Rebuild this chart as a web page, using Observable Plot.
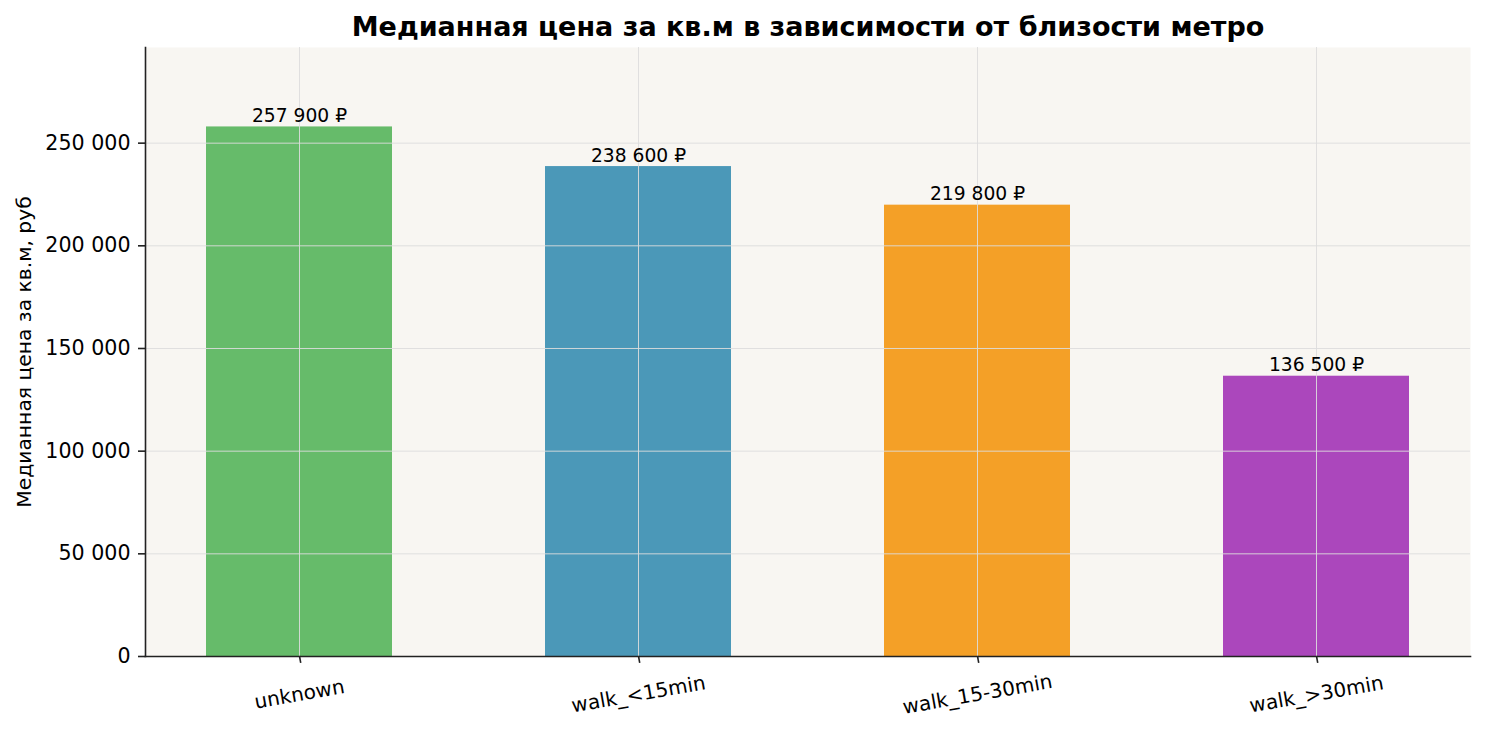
<!DOCTYPE html>
<html>
<head>
<meta charset="utf-8">
<script src="https://cdn.jsdelivr.net/npm/d3@7"></script>
<script src="https://cdn.jsdelivr.net/npm/@observablehq/plot@0.6"></script>
<style>
  html, body { margin: 0; padding: 0; background: #ffffff; }
  #chart { width: 1485px; height: 734px; }
</style>
</head>
<body>
<div id="chart"></div>
<script>
const categories = ["unknown", "walk_<15min", "walk_15-30min", "walk_>30min"];
const medianPrice = [257900, 238600, 219800, 136500];
const barColors = ["#66bb6a", "#4b98b8", "#f4a027", "#ab47bc"];
const yTicks = [0, 50000, 100000, 150000, 200000, 250000];
const titleText = "Медианная цена за кв.м в зависимости от близости метро";
const yLabelText = "Медианная цена за кв.м, руб";

const data = categories.map((c, i) => ({cat: c, value: medianPrice[i], color: barColors[i]}));
const fmtNum = d => d3.format(",")(d).replace(/,/g, "\u00a0");
const fmtRub = d => fmtNum(d) + " ₽";

const chart = Plot.plot({
  width: 1485,
  height: 734,
  marginLeft: 145,
  marginRight: 15,
  marginTop: 47,
  marginBottom: 78,
  style: {fontFamily: "DejaVu Sans", background: "#ffffff", color: "#000000"},
  x: {domain: categories, paddingInner: 0.45, paddingOuter: 0.175, label: null},
  y: {domain: [0, 257900 * 1.15], label: null},
  color: {type: "identity"},
  marks: [
    Plot.frame({fill: "#f8f6f2", stroke: "none"}),
    Plot.barY(data, {x: "cat", y: "value", fill: "color"}),
    Plot.gridY(yTicks, {stroke: "#dddddd", strokeOpacity: 0.9, strokeWidth: 1}),
    Plot.gridX({stroke: "#dddddd", strokeOpacity: 0.9, strokeWidth: 1}),
    Plot.text(data, {x: "cat", y: "value", text: d => fmtRub(d.value), lineAnchor: "bottom", dy: -5, fontSize: 18.7, fill: "#000"}),
    Plot.axisY(yTicks, {tickSize: 7, tickPadding: 8, tickFormat: fmtNum, fontSize: 20.6, strokeWidth: 1.6, stroke: "#222", label: null}),
    Plot.axisX({tickSize: 7, tickPadding: 31, rotate: -10, textAnchor: "middle", lineAnchor: "middle", fontSize: 20, strokeWidth: 1.6, stroke: "#222", label: null}),
    Plot.frame({anchor: "left", stroke: "#222", strokeWidth: 1.6}),
    Plot.frame({anchor: "bottom", stroke: "#222", strokeWidth: 1.6}),
    Plot.text([yLabelText], {frameAnchor: "left", dx: -121, rotate: -90, fontSize: 20.3, textAnchor: "middle", lineAnchor: "middle", fill: "#000"}),
    Plot.text([titleText], {frameAnchor: "top", dy: -20, fontSize: 27, fontWeight: "bold", textAnchor: "middle", lineAnchor: "middle", fill: "#000"})
  ]
});
document.getElementById("chart").appendChild(chart);
</script>
</body>
</html>
